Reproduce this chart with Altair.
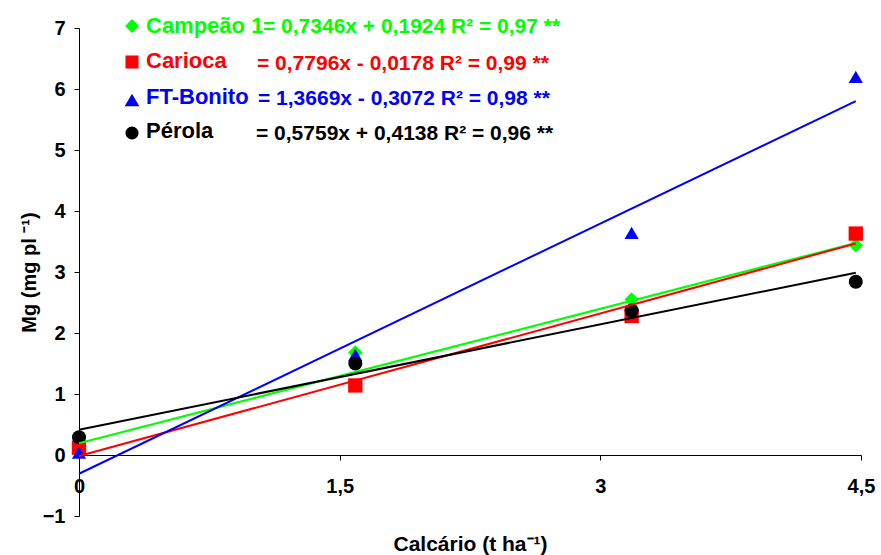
import altair as alt
import pandas as pd

# Cultivars, marker colours and shapes
cultivars = ["Campeão 1", "Carioca", "FT-Bonito", "Pérola"]
colors = ["#00FF00", "#FF0000", "#0000FF", "#000000"]
shapes = ["diamond", "square", "triangle-up", "circle"]
sizes = [210, 196, 225, 180]

# Lime rates (t/ha) and Mg accumulation (mg/plant)
doses = [0.0, 1.59, 3.18, 4.47]
mg_campeao = [0.16, 1.68, 2.55, 3.44]
mg_carioca = [0.12, 1.14, 2.28, 3.63]
mg_ft_bonito = [0.04, 1.64, 3.64, 6.20]
mg_perola = [0.29, 1.50, 2.37, 2.84]

# Fitted linear regressions
slopes = [0.7346, 0.7796, 1.3669, 0.5759]
intercepts = [0.1924, -0.0178, -0.3072, 0.4138]
r2 = [0.97, 0.99, 0.98, 0.96]

x_ticks = [0, 1.5, 3, 4.5]
y_ticks = [-1, 0, 1, 2, 3, 4, 5, 6, 7]

FONT = "Liberation Sans"
PAD_L, PAD_T, PAD_R, PAD_B = 79, 28, 20, 39
W, H = 782, 488


def dec(v, n):
    return f"{v:.{n}f}".replace(".", ",")


def equation(a, b, r):
    sign = "+" if b >= 0 else "-"
    return f"= {dec(a, 4)}x {sign} {dec(abs(b), 4)} R² = {dec(r, 2)} **"


series_mg = [mg_campeao, mg_carioca, mg_ft_bonito, mg_perola]
pts = pd.DataFrame(
    [
        {"cultivar": c, "dose": d, "mg": m}
        for c, vals in zip(cultivars, series_mg)
        for d, m in zip(doses, vals)
    ]
)

fits = pd.DataFrame(
    [
        {"cultivar": c, "a": a, "b": b, "dose": d, "order": i}
        for i, (c, a, b) in enumerate(zip(cultivars, slopes, intercepts))
        for d in (min(doses), max(doses))
    ]
)

x_scale = alt.Scale(domain=[0, 4.5], nice=False, zero=False)
y_scale = alt.Scale(domain=[-1, 7], nice=False, zero=False)
color_scale = alt.Scale(domain=cultivars, range=colors)

x_axis = alt.Axis(
    values=x_ticks,
    labelExpr="replace(format(datum.value, '.1~f'), '.', ',')",
    labelFlush=False,
    offset=-61,
    tickSize=5,
    labelPadding=16,
    title="Calcário (t ha⁻¹)",
    titlePadding=37,
    titleFontSize=21,
    grid=False,
)
y_axis = alt.Axis(
    values=y_ticks,
    format="d",
    labelFlush=False,
    tickSize=5,
    labelPadding=9,
    title="Mg (mg pl ⁻¹)",
    titlePadding=3,
    titleFontSize=20,
    grid=False,
)

points = (
    alt.Chart(pts)
    .mark_point(filled=True, opacity=1)
    .encode(
        x=alt.X("dose:Q", scale=x_scale, axis=x_axis),
        y=alt.Y("mg:Q", scale=y_scale, axis=y_axis),
        color=alt.Color("cultivar:N", scale=color_scale, legend=None),
        shape=alt.Shape(
            "cultivar:N", scale=alt.Scale(domain=cultivars, range=shapes), legend=None
        ),
        size=alt.Size(
            "cultivar:N", scale=alt.Scale(domain=cultivars, range=sizes), legend=None
        ),
        order=alt.Order("cultivar:N"),
    )
)

lines = (
    alt.Chart(fits)
    .transform_calculate(mg="datum.a * datum.dose + datum.b")
    .mark_line(strokeWidth=2, clip=False)
    .encode(
        x=alt.X("dose:Q", scale=x_scale),
        y=alt.Y("mg:Q", scale=y_scale),
        color=alt.Color("cultivar:N", scale=color_scale, legend=None),
        detail="cultivar:N",
    )
)

# Key in the upper-left corner: symbol, cultivar name and fitted equation
sym_x = 132
label_x = 146
eq_x = [263, 257, 258, 256]
sym_y = [26, 62, 100, 133]
label_base = [33, 68, 104, 138]
eq_base = [33, 70, 105, 140]
key_sizes = [190, 170, 215, 170]

key_layers = []
for i, c in enumerate(cultivars):
    one = pd.DataFrame(
        {"cultivar": [c], "eq": [equation(slopes[i], intercepts[i], r2[i])]}
    )
    base = alt.Chart(one)
    key_layers.append(
        base.mark_point(
            filled=True,
            opacity=1,
            shape=shapes[i],
            size=key_sizes[i],
            color=colors[i],
        ).encode(x=alt.value(sym_x - PAD_L), y=alt.value(sym_y[i] - PAD_T))
    )
    key_layers.append(
        base.mark_text(
            align="left",
            baseline="alphabetic",
            font=FONT,
            fontWeight="bold",
            fontSize=22,
            color=colors[i],
        ).encode(
            x=alt.value(label_x - PAD_L),
            y=alt.value(label_base[i] - PAD_T),
            text="cultivar:N",
        )
    )
    key_layers.append(
        base.mark_text(
            align="left",
            baseline="alphabetic",
            font=FONT,
            fontWeight="bold",
            fontSize=21,
            color=colors[i],
        ).encode(
            x=alt.value(eq_x[i] - PAD_L),
            y=alt.value(eq_base[i] - PAD_T),
            text="eq:N",
        )
    )

chart = (
    alt.layer(points, lines, *key_layers)
    .properties(
        width=W,
        height=H,
        autosize=alt.AutoSizeParams(type="none"),
        padding={"left": PAD_L, "top": PAD_T, "right": PAD_R, "bottom": PAD_B},
        background="white",
    )
    .configure_view(stroke=None)
    .configure_axis(
        labelFont=FONT,
        labelFontWeight="bold",
        labelFontSize=20,
        labelColor="black",
        titleFont=FONT,
        titleFontWeight="bold",
        titleColor="black",
        domainColor="black",
        tickColor="black",
        domainWidth=1,
        tickWidth=1,
    )
)

chart.save("out.html", embed_options={"renderer": "svg", "actions": False})
